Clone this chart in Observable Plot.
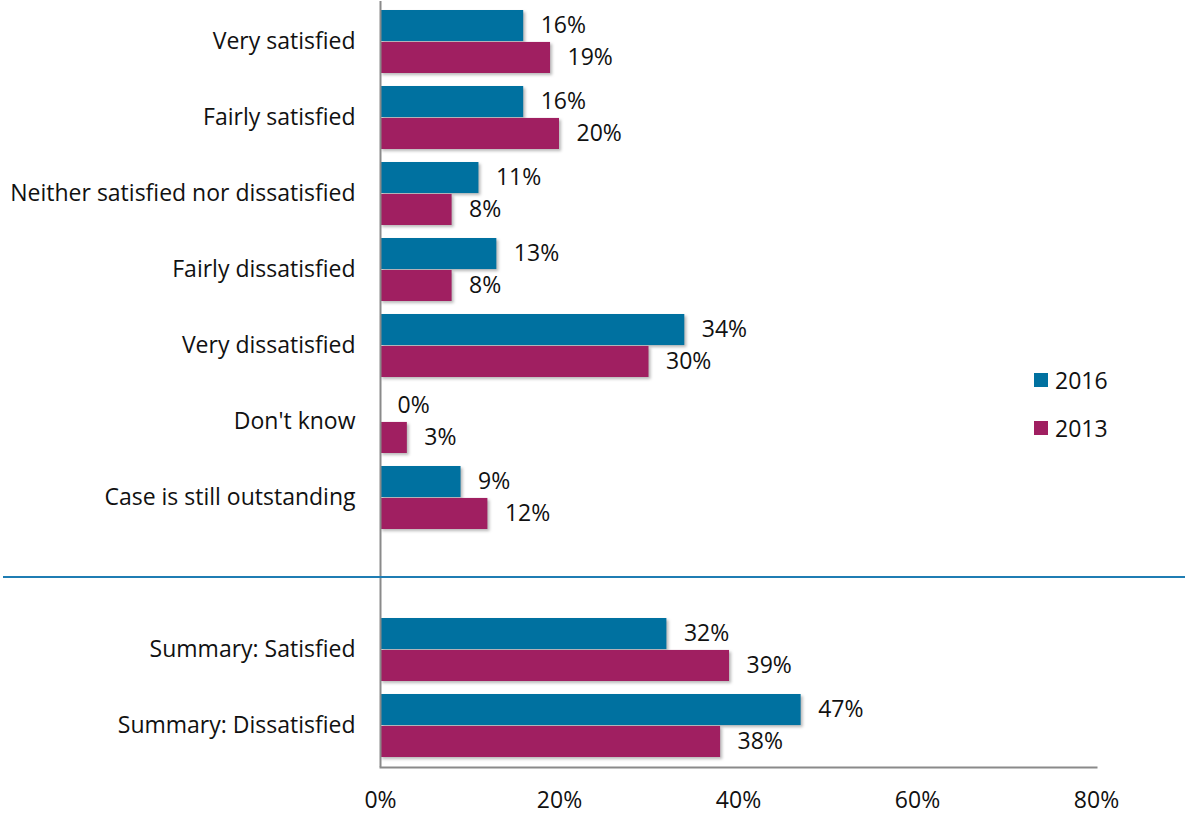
<!DOCTYPE html>
<html>
<head>
<meta charset="utf-8">
<script src="https://cdn.jsdelivr.net/npm/d3@7"></script>
<script src="https://cdn.jsdelivr.net/npm/@observablehq/plot@0.6"></script>
<style>
  body { margin: 0; background: #fff; font-family: "Open Sans", sans-serif; }
  #wrap { position: relative; width: 1185px; height: 816px; }
  #legend { position: absolute; left: 1034px; top: 364px; font-size: 23px; color: #111; }
  #legend .item { display: flex; align-items: center; height: 32px; margin-bottom: 16px; }
  #legend .sw { width: 14px; height: 14px; margin-right: 7px; }
  g[aria-label="bar"] rect { filter: drop-shadow(2px 2px 1.5px rgba(0,0,0,0.28)); }
</style>
</head>
<body>
<div id="wrap"></div>
<script>
const categories = [
  "Very satisfied",
  "Fairly satisfied",
  "Neither satisfied nor dissatisfied",
  "Fairly dissatisfied",
  "Very dissatisfied",
  "Don't know",
  "Case is still outstanding",
  " ",
  "Summary: Satisfied",
  "Summary: Dissatisfied"
];
const values2016 = [16, 16, 11, 13, 34, 0, 9, null, 32, 47];
const values2013 = [19, 20, 8, 8, 30, 3, 12, null, 39, 38];
const series = ["2016", "2013"];
const seriesColors = ["#0071a0", "#a01f61"];
const xTicks = [0, 20, 40, 60, 80];
const spacer = " ";

const rows2016 = categories.map((c, i) => ({category: c, value: values2016[i]})).filter(d => d.value != null);
const rows2013 = categories.map((c, i) => ({category: c, value: values2013[i]})).filter(d => d.value != null);

const paddingInner = 0.165;
const step = 76.5;
const half = step * (1 - paddingInner) / 2;
const fs = 23;

const chart = Plot.plot({
  width: 1185,
  height: 816,
  marginLeft: 380,
  marginRight: 89,
  marginTop: 1,
  marginBottom: 49,
  style: {fontFamily: "'Open Sans', sans-serif", fontSize: fs + "px", color: "#111", background: "#fff", overflow: "visible"},
  x: {domain: [0, 80], label: null},
  y: {domain: categories, paddingInner: paddingInner, paddingOuter: paddingInner / 2, label: null},
  marks: [
    Plot.axisY({tickSize: 0, tickPadding: 25, fontSize: fs, label: null}),
    Plot.axisX({ticks: xTicks, tickFormat: d => d + "%", tickSize: 0, tickPadding: 24, fontSize: fs, label: null}),
    Plot.barX(rows2016, {x: "value", y: "category", fill: seriesColors[0], insetBottom: half, insetTop: 0}),
    Plot.barX(rows2013, {x: "value", y: "category", fill: seriesColors[1], insetTop: half, insetBottom: 0}),
    Plot.text(rows2016, {x: "value", y: "category", text: d => d.value + "%", textAnchor: "start", dx: 17, dy: -half / 2, fontSize: fs, fill: "#111"}),
    Plot.text(rows2013, {x: "value", y: "category", text: d => d.value + "%", textAnchor: "start", dx: 17, dy: half / 2, fontSize: fs, fill: "#111"}),
    Plot.ruleX([0], {stroke: "#8a8a8a", strokeWidth: 2}),
    Plot.frame({anchor: "bottom", stroke: "#8a8a8a", strokeWidth: 2}),
    Plot.ruleY([spacer], {y: d => d, stroke: "#1f7db3", strokeWidth: 2, insetLeft: -377, insetRight: -89, dy: 3})
  ]
});
document.getElementById("wrap").appendChild(chart);

const legend = document.createElement("div");
legend.id = "legend";
series.forEach((s, i) => {
  const item = document.createElement("div");
  item.className = "item";
  const sw = document.createElement("span");
  sw.className = "sw";
  sw.style.background = seriesColors[i];
  const t = document.createElement("span");
  t.textContent = s;
  item.appendChild(sw);
  item.appendChild(t);
  legend.appendChild(item);
});
document.getElementById("wrap").appendChild(legend);
</script>
</body>
</html>
